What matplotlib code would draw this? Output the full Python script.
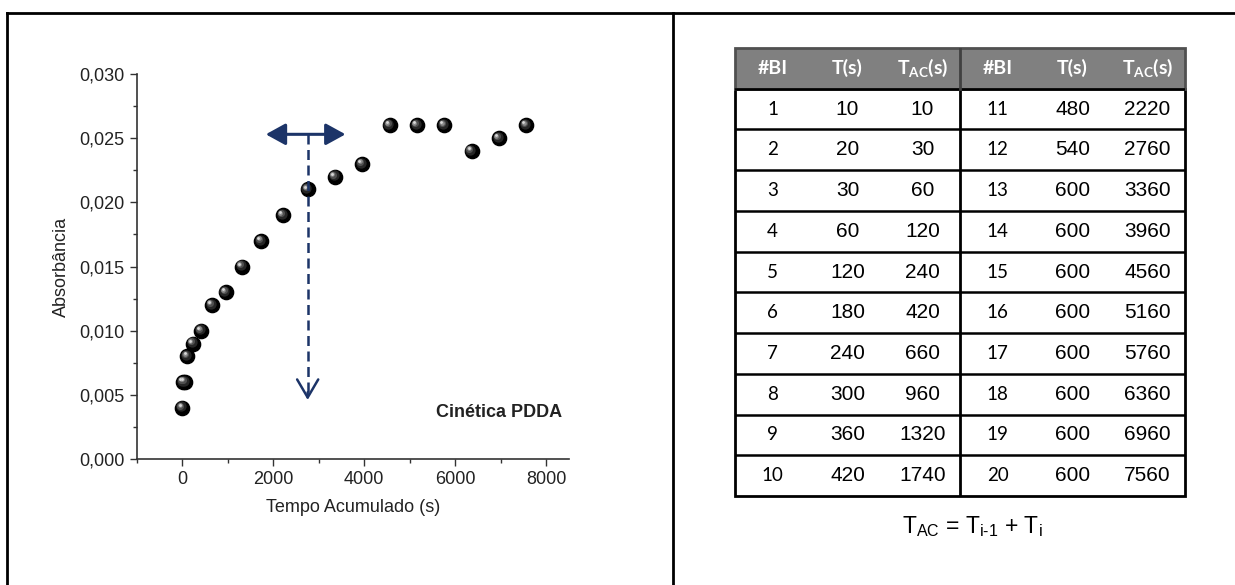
import matplotlib
matplotlib.use('Agg')
import matplotlib.pyplot as plt
from matplotlib.lines import Line2D
from matplotlib.patches import Rectangle
from matplotlib.ticker import MultipleLocator, FuncFormatter
from matplotlib.transforms import offset_copy

# ── fontes ───────────────────────────────────────────────────────────────────
plt.rcParams['font.family'] = ['Liberation Sans', 'DejaVu Sans']
plt.rcParams['mathtext.fontset'] = 'custom'
plt.rcParams['mathtext.rm'] = 'Liberation Sans'
plt.rcParams['mathtext.it'] = 'Liberation Sans:italic'
plt.rcParams['mathtext.bf'] = 'Lato:bold'

# ── dados da cinética ────────────────────────────────────────────────────────
bi = [1, 2, 3, 4, 5, 6, 7, 8, 9, 10, 11, 12, 13, 14, 15, 16, 17, 18, 19, 20]
t_s = [10, 20, 30, 60, 120, 180, 240, 300, 360, 420,
       480, 540, 600, 600, 600, 600, 600, 600, 600, 600]
t_ac = [10, 30, 60, 120, 240, 420, 660, 960, 1320, 1740,
        2220, 2760, 3360, 3960, 4560, 5160, 5760, 6360, 6960, 7560]
absorb = [0.004, 0.006, 0.006, 0.008, 0.009, 0.010, 0.012, 0.013, 0.015, 0.017,
          0.019, 0.021, 0.022, 0.023, 0.026, 0.026, 0.026, 0.024, 0.025, 0.026]

header = ['#BI', 'T(s)', r'$\mathbf{T_{AC}(s)}$']

NAVY = '#1c3468'
DARK = '#222222'

fig = plt.figure(figsize=(12.35, 5.85), dpi=100)

# ── moldura ──────────────────────────────────────────────────────────────────
W, H = 1235, 585
def px(x, y):
    return x / W, 1 - y / H

for (x0, y0), (x1, y1) in [((7, 13), (1235, 13)), ((7, 13), (7, 585)),
                           ((673, 13), (673, 585))]:
    a, b = px(x0, y0)
    c, d = px(x1, y1)
    fig.add_artist(Line2D([a, c], [b, d], color='black', lw=2.0,
                          transform=fig.transFigure, solid_capstyle='projecting'))

# ── gráfico ──────────────────────────────────────────────────────────────────
ax = fig.add_axes([136.5 / W, 1 - 459 / H, (569 - 136.5) / W, (459 - 74) / H])
ax.set_xlim(-1000, 8500)
ax.set_ylim(0, 0.030)
for s in ['top', 'right']:
    ax.spines[s].set_visible(False)
for s in ['left', 'bottom']:
    ax.spines[s].set_color('#333333')
    ax.spines[s].set_linewidth(1.2)

ax.xaxis.set_major_locator(MultipleLocator(2000))
ax.xaxis.set_minor_locator(MultipleLocator(1000))
ax.yaxis.set_major_locator(MultipleLocator(0.005))
ax.yaxis.set_minor_locator(MultipleLocator(0.0025))
ax.yaxis.set_major_formatter(FuncFormatter(lambda v, p: f'{v:.3f}'.replace('.', ',')))
ax.set_xticks([0, 2000, 4000, 6000, 8000])
ax.tick_params(which='both', direction='out', color='#333333', width=1.0,
               labelsize=13, labelcolor=DARK)
ax.tick_params(which='major', length=5)
ax.tick_params(which='minor', length=3)

ax.set_xlabel('Tempo Acumulado (s)', fontsize=13, color=DARK, labelpad=8)
ax.set_ylabel('Absorbância', fontsize=13, color=DARK, labelpad=7)

# esferas: base preta + brilho no canto superior esquerdo
ax.scatter(t_ac, absorb, s=105, color='black', zorder=3, clip_on=False)
for dx, size, col in [(0.9, 55, '#262626'), (1.5, 26, '#505050'),
                      (1.9, 11, '#8c8c8c'), (2.1, 4, '#d8d8d8')]:
    tr = offset_copy(ax.transData, fig=fig, x=-dx, y=dx, units='points')
    ax.scatter(t_ac, absorb, s=size, color=col, transform=tr, zorder=4,
               linewidths=0, clip_on=False)

# setas indicando o ponto de saturação
ax.annotate('', xy=(1840, 0.0253), xytext=(3590, 0.0253),
            arrowprops=dict(arrowstyle='<|-|>,head_length=0.6,head_width=0.33',
                            mutation_scale=20, color=NAVY, lw=2.2,
                            shrinkA=0, shrinkB=0), zorder=6)
ax.plot([2760, 2760], [0.0253, 0.0050], color=NAVY, lw=1.8,
        ls=(0, (4, 2.2)), zorder=6)
ax.annotate('', xy=(2760, 0.0046), xytext=(2760, 0.0052),
            arrowprops=dict(arrowstyle='->,head_length=0.65,head_width=0.38',
                            mutation_scale=20, color=NAVY, lw=1.8,
                            shrinkA=0, shrinkB=0), zorder=6)

ax.text(8350, 0.00366, 'Cinética PDDA', fontsize=13, fontweight='bold',
        ha='right', va='center', color=DARK)

# ── tabela ───────────────────────────────────────────────────────────────────
tax = fig.add_axes([735 / W, 1 - 496 / H, 450 / W, (496 - 48) / H])
tax.set_xlim(0, 6)
tax.set_ylim(11, 0)
tax.axis('off')

tax.add_patch(Rectangle((0, 0), 6, 1, facecolor='#808080', edgecolor='none'))
for r in range(1, 11):
    tax.axhline(r, color='black', lw=1.8)
tax.plot([3, 3], [1, 11], color='black', lw=2.0)
tax.plot([3, 3], [0, 1], color='#404040', lw=2.0)
tax.add_patch(Rectangle((0, 1), 6, 10, fill=False, edgecolor='black', lw=2.0,
                        clip_on=False))
tax.add_patch(Rectangle((0, 0), 6, 1, fill=False, edgecolor='#505050', lw=2.0,
                        clip_on=False))

for half in range(2):
    for j, lab in enumerate(header):
        tax.text(half * 3 + j + 0.5, 0.5, lab, ha='center', va='center',
                 color='white', fontsize=14, fontweight='bold', family='Lato')
    for i in range(10):
        k = half * 10 + i
        y = i + 1.5
        tax.text(half * 3 + 0.5, y, str(bi[k]), ha='center', va='center',
                 fontsize=13.5, family='Lato', color='black')
        tax.text(half * 3 + 1.5, y, str(t_s[k]), ha='center', va='center',
                 fontsize=15, family='Liberation Sans', color='black')
        tax.text(half * 3 + 2.5, y, str(t_ac[k]), ha='center', va='center',
                 fontsize=15, family='Liberation Sans', color='black')

fig.text(972 / W, 1 - 527 / H,
         r'T$_\mathregular{AC}$ = T$_\mathregular{i\text{-}1}$ + T$_\mathregular{i}$',
         ha='center', va='center', fontsize=16.5, color='black')

fig.savefig('out.png', dpi=100)
